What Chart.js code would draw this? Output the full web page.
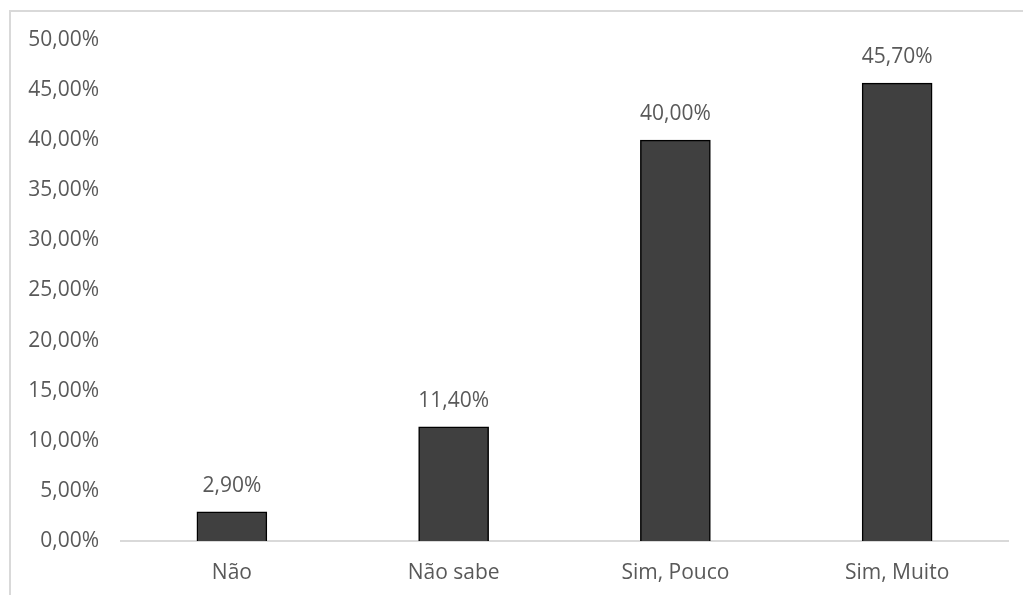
<!DOCTYPE html>
<html>
<head>
<meta charset="utf-8">
<script src="https://cdn.jsdelivr.net/npm/chart.js@4.4.1/dist/chart.umd.min.js"></script>
<style>
    html, body { margin: 0; padding: 0; background: #fff; }
    #wrap { position: relative; width: 1023px; height: 595px; overflow: hidden; }
    #frame {
        position: absolute; left: 9px; top: 10px; width: 1100px; height: 700px;
        border-left: 2px solid #d9d9d9; border-top: 2px solid #d9d9d9;
    }
    #chart { position: absolute; left: 0; top: 0; }
</style>
</head>
<body>
<div id="wrap">
    <div id="frame"></div>
    <canvas id="chart" width="1023" height="595"></canvas>
</div>
<script>
const categories = ["Não", "Não sabe", "Sim, Pouco", "Sim, Muito"];
const shares = [2.9, 11.4, 40.0, 45.7];
const yTicks = [0, 5, 10, 15, 20, 25, 30, 35, 40, 45, 50];

const textColor = "#595959";
const fontFamily = "'Open Sans', sans-serif";
const fontSize = 21;

// pt-BR style percentage: 45,70%
function fmtPct(v) {
    return v.toFixed(2).replace(".", ",") + "%";
}

// value labels above each bar
const valueLabels = {
    id: "valueLabels",
    afterDatasetsDraw(chart) {
        const ctx = chart.ctx;
        const meta = chart.getDatasetMeta(0);
        ctx.save();
        ctx.font = `${fontSize}px ${fontFamily}`;
        ctx.fillStyle = textColor;
        ctx.textAlign = "center";
        ctx.textBaseline = "middle";
        meta.data.forEach((bar, i) => {
            ctx.fillText(fmtPct(shares[i]), bar.x, bar.y - 26);
        });
        ctx.restore();
    }
};

new Chart(document.getElementById("chart"), {
    type: "bar",
    data: {
        labels: categories,
        datasets: [{
            data: shares,
            backgroundColor: "#404040",
            borderColor: "#000000",
            borderWidth: 1.5,
            barThickness: 70
        }]
    },
    options: {
        responsive: false,
        animation: false,
        layout: {
            padding: { top: 40, right: 15, left: 0, bottom: 0 }
        },
        plugins: {
            legend: { display: false },
            tooltip: { enabled: false }
        },
        scales: {
            x: {
                grid: { display: false },
                border: { display: true, color: "#d9d9d9", width: 2 },
                ticks: {
                    color: textColor,
                    font: { family: fontFamily, size: fontSize },
                    padding: 11
                },
                afterFit(scale) {
                    scale.height = 54;
                }
            },
            y: {
                min: 0,
                max: 50,
                grid: { display: false },
                border: { display: false },
                afterBuildTicks(scale) {
                    scale.ticks = yTicks.map(v => ({ value: v }));
                },
                ticks: {
                    color: textColor,
                    font: { family: fontFamily, size: fontSize },
                    padding: 14,
                    callback: v => fmtPct(v)
                },
                afterFit(scale) {
                    scale.width = 121;
                }
            }
        }
    },
    plugins: [valueLabels]
});
</script>
</body>
</html>
